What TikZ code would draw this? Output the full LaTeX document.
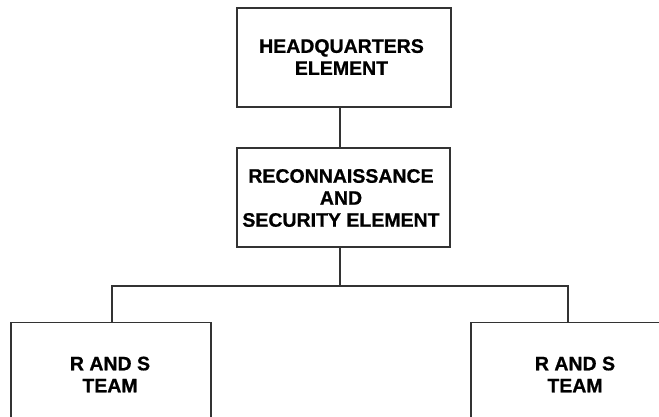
\documentclass[tikz,border=0pt]{standalone}
\usepackage{fontspec}
\setmainfont{Liberation Sans}
\newfontfamily\heavyfont[FakeBold=0.8]{Liberation Sans Bold}
\begin{document}
\begin{tikzpicture}[x=1pt,y=-1pt,
  box/.style={draw=black!80, line width=1.2pt, fill=white, rectangle, inner sep=0pt},
  lbl/.style={font=\fontsize{19.5}{22}\selectfont\heavyfont, align=center, inner sep=0pt},
  link/.style={draw=black!80, line width=1.2pt}]
\useasboundingbox (0,0) rectangle (659,416);
\clip (0,0) rectangle (659,416);

% upper boxes
\node[box, minimum width=214pt, minimum height=99pt] (hq) at (344,57.5) {};
\node[lbl] (hqtext) at (341.5,57) {HEADQUARTERS\\ELEMENT};
\node[box, minimum width=213pt, minimum height=99pt] (recon) at (343.5,197.5) {};
\node[lbl] (recontext) at (341,198) {RECONNAISSANCE\\AND\\SECURITY ELEMENT};

% team boxes, running past the lower edge
\node[box, minimum width=200pt, minimum height=200pt, anchor=north] (teamL) at (111,322) {};
\node[lbl] (teamLtext) at (110,374.5) {R AND S\\TEAM};
\node[box, minimum width=200pt, minimum height=200pt, anchor=north] (teamR) at (571,322) {};
\node[lbl] (teamRtext) at (575,374.5) {R AND S\\TEAM};

% connectors
\coordinate (spine) at (340,0);
\coordinate (barL) at (112,286);
\coordinate (barR) at (568,286);
\draw[link] (hq.south -| spine) -- (recon.north -| spine);
\draw[link] (recon.south -| spine) -- (barL -| spine);
\draw[link] (teamL.north -| barL) -- (barL) -- (barR) -- (teamR.north -| barR);
\end{tikzpicture}
\end{document}
